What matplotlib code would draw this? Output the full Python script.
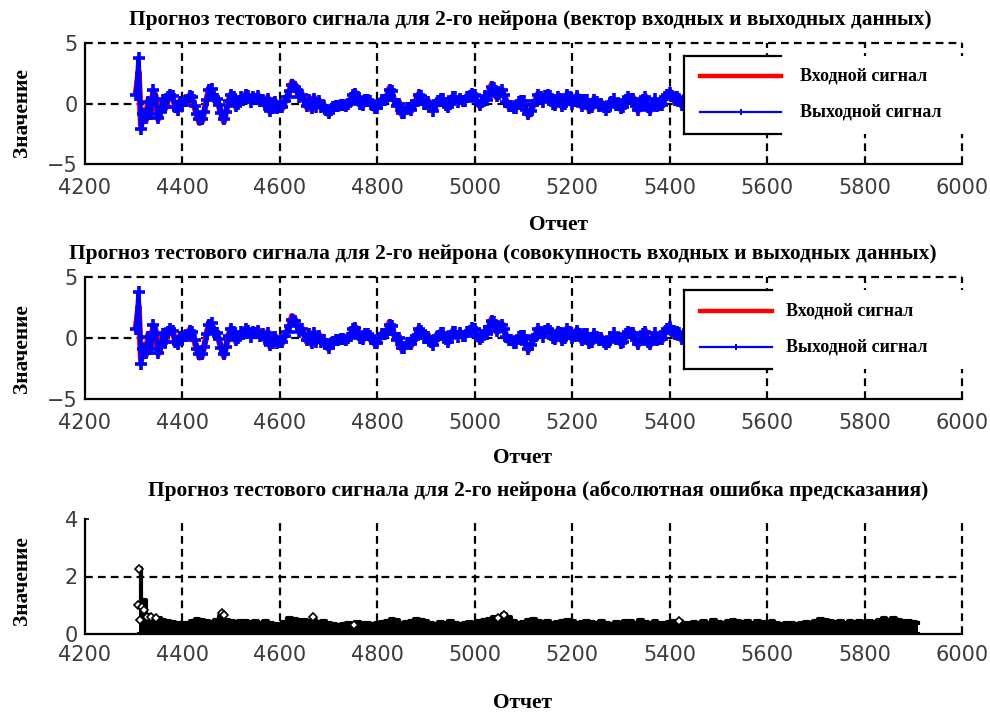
import numpy as np
import matplotlib
matplotlib.use("Agg")
import matplotlib.pyplot as plt
from matplotlib.lines import Line2D
from matplotlib.patches import Rectangle

# ---- data ----
# input / output signal, one value every 5 samples starting at 4305
sig_start, sig_step = 4305, 5
sig_in = [
    1.0, 2.6, -1.8, -0.6, -1.4, 0.3, -0.8, 1.0, 0.6, -1.3,
    -0.6, 0.2, -0.4, 0.4, 0.8, 0.5, -0.2, -0.6, 0.2, -0.1,
    0.3, 0.1, 0.7, 0.4, -0.3, -1.0, -1.6, -1.5, -0.6, 0.4,
    1.3, 1.1, 0.6, 0.3, -0.2, -0.9, -1.5, -0.6, 0.3, 0.8,
    0.4, -0.3, 0.1, 0.4, 0.2, 0.8, 0.5, 0.2, 0.6, 0.3,
    0.7, 0.1, 0.4, -0.2, 0.5, -0.7, -0.3, 0.2, -0.5, -0.2,
    -0.4, 0.1, 0.6, 1.1, 1.8, 1.6, 1.0, 0.6, 0.8, 0.2,
    -0.3, 0.4, -0.5, 0.5, -0.2, 0.3, -0.4, -0.1, -0.6, -0.9,
    -0.4, -0.2, -0.3, -0.1, -0.2, 0.0, -0.3, -0.1, 0.3, 0.8,
    0.9, 0.4, 0.1, -0.2, 0.2, 0.4, 0.1, -0.2, -0.5, -0.3,
    0.1, 0.4, 0.2, 0.6, 1.3, 0.9, 0.2, -0.1, 0.1, -0.9,
    -0.7, -0.5, -0.3, -0.6, -0.2, 0.3, 0.8, 0.5, 0.1, -0.1,
    0.2, -0.4, -0.5, -0.2, 0.1, 0.5, 0.3, -0.2, -0.4, 0.1,
    0.6, 0.4, 0.2, 0.5, 0.1, 0.3, 0.4, 0.7, 0.9, 0.6,
    0.1, -0.2, 0.2, 0.5, 0.4, 1.0, 1.6, 1.2, 0.5, 0.9,
    1.2, 0.6, 0.2, -0.3, -0.1, -0.5, -0.3, 0.0, 0.3, 0.1,
    -0.6, -1.0, -0.5, -0.2, 0.3, 0.8, 0.4, 0.2, 0.5, 0.8,
    0.5, 0.1, -0.2, 0.6, 0.3, -0.3, 0.1, 0.8, 0.4, -0.1,
    0.3, 0.7, 0.2, -0.3, 0.4, 0.2, -0.5, -0.2, 0.4, 0.0,
    -0.3, 0.1, -0.4, -0.6, -0.2, 0.2, 0.3, -0.2, 0.0, -0.5,
    -0.2, 0.4, 0.6, 0.3, 0.5, -0.3, -0.6, -0.1, 0.2, 0.6,
    -0.4, -0.6, 0.1, 0.3, -0.3, 0.0, -0.2, 0.4, 0.8, 1.0,
    0.5, 0.2, 0.6, 0.3, -0.2, 0.4, 0.1, 0.3,
]
sig_out = [
    0.7, 3.8, -2.1, -0.9, -1.2, 0.1, -0.9, 1.1, 0.4, -1.2,
    -0.7, 0.3, -0.3, 0.5, 0.7, 0.6, -0.3, -0.5, 0.1, 0.0,
    0.2, 0.2, 0.6, 0.5, -0.2, -0.9, -1.3, -1.3, -0.7, 0.3,
    1.1, 1.2, 0.5, 0.4, -0.1, -0.8, -1.3, -0.7, 0.2, 0.7,
    0.5, -0.2, 0.0, 0.5, 0.3, 0.7, 0.6, 0.1, 0.5, 0.4,
    0.6, 0.2, 0.3, -0.1, 0.4, -0.6, -0.4, 0.1, -0.4, -0.3,
    -0.3, 0.2, 0.5, 1.0, 1.5, 1.4, 1.1, 0.5, 0.7, 0.3,
    -0.2, 0.3, -0.4, 0.4, -0.3, 0.2, -0.3, -0.2, -0.5, -0.8,
    -0.5, -0.3, -0.2, -0.2, -0.1, -0.1, -0.2, 0.0, 0.2, 0.7,
    0.8, 0.5, 0.0, -0.1, 0.3, 0.3, 0.2, -0.1, -0.4, -0.4,
    0.0, 0.3, 0.3, 0.5, 1.1, 1.0, 0.3, -0.2, 0.0, -0.8,
    -0.8, -0.4, -0.4, -0.5, -0.1, 0.2, 0.7, 0.6, 0.0, 0.0,
    0.1, -0.3, -0.6, -0.1, 0.2, 0.4, 0.4, -0.1, -0.3, 0.0,
    0.5, 0.5, 0.1, 0.4, 0.2, 0.2, 0.5, 0.6, 0.8, 0.7,
    0.2, -0.1, 0.1, 0.6, 0.3, 0.9, 1.4, 1.3, 0.6, 0.8,
    1.1, 0.7, 0.1, -0.2, -0.2, -0.4, -0.4, 0.1, 0.2, 0.2,
    -0.5, -0.9, -0.6, -0.1, 0.2, 0.7, 0.5, 0.1, 0.6, 0.7,
    0.6, 0.0, -0.1, 0.5, 0.4, -0.2, 0.0, 0.7, 0.5, 0.0,
    0.2, 0.6, 0.3, -0.2, 0.3, 0.3, -0.4, -0.3, 0.3, 0.1,
    -0.2, 0.0, -0.3, -0.5, -0.3, 0.1, 0.4, -0.1, -0.1, -0.4,
    -0.3, 0.3, 0.5, 0.4, 0.4, -0.2, -0.5, -0.2, 0.3, 0.5,
    -0.3, -0.5, 0.0, 0.4, -0.2, -0.1, -0.1, 0.5, 0.7, 0.9,
    0.6, 0.3, 0.5, 0.4, -0.1, 0.3, 0.2, 0.2,
]

# absolute prediction error, one value every 10 samples starting at 4310
err_start, err_step = 4310, 10
err_vals = [
    2.3, 1.2, 0.65, 0.6, 0.55, 0.5, 0.45, 0.42, 0.4, 0.38,
    0.4, 0.45, 0.52, 0.5, 0.44, 0.42, 0.48, 0.62, 0.48, 0.44,
    0.42, 0.46, 0.44, 0.42, 0.46, 0.4, 0.44, 0.38, 0.36, 0.34,
    0.42, 0.55, 0.52, 0.48, 0.5, 0.44, 0.48, 0.42, 0.46, 0.4,
    0.34, 0.32, 0.36, 0.4, 0.34, 0.42, 0.38, 0.4, 0.34, 0.38,
    0.42, 0.46, 0.52, 0.48, 0.4, 0.42, 0.46, 0.52, 0.5, 0.44,
    0.4, 0.36, 0.42, 0.4, 0.46, 0.4, 0.34, 0.38, 0.42, 0.4,
    0.44, 0.48, 0.52, 0.58, 0.52, 0.68, 0.58, 0.44, 0.4, 0.42,
    0.48, 0.52, 0.46, 0.4, 0.44, 0.38, 0.42, 0.46, 0.48, 0.44,
    0.4, 0.42, 0.46, 0.42, 0.38, 0.44, 0.4, 0.36, 0.42, 0.4,
    0.44, 0.46, 0.4, 0.48, 0.42, 0.38, 0.44, 0.4, 0.37, 0.42,
    0.46, 0.44, 0.4, 0.38, 0.42, 0.4, 0.44, 0.4, 0.48, 0.42,
    0.38, 0.44, 0.5, 0.46, 0.42, 0.44, 0.4, 0.46, 0.42, 0.4,
    0.44, 0.4, 0.36, 0.4, 0.38, 0.34, 0.38, 0.42, 0.4, 0.44,
    0.52, 0.48, 0.46, 0.42, 0.46, 0.4, 0.44, 0.42, 0.46, 0.4,
    0.44, 0.42, 0.48, 0.54, 0.5, 0.55, 0.48, 0.46, 0.44, 0.42,
    0.4,
]
# open markers sticking out above the error band
out_x = [4308, 4310, 4313, 4316, 4321, 4327, 4336, 4346, 4481, 4486, 4668, 4752, 5048, 5060, 5420]
out_y = [1.0, 2.25, 0.5, 0.95, 0.85, 0.6, 0.6, 0.55, 0.72, 0.65, 0.58, 0.3, 0.55, 0.66, 0.45]

titles = [
    "Прогноз тестового сигнала для 2-го нейрона (вектор входных и выходных данных)",
    "Прогноз тестового сигнала для 2-го нейрона (совокупность входных и выходных данных)",
    "Прогноз тестового сигнала для 2-го нейрона (абсолютная ошибка предсказания)",
]
legend_labels = ["Входной сигнал", "Выходной сигнал"]
xticks = list(range(4200, 6001, 200))

n = min(len(sig_in), len(sig_out))
sig_x = sig_start + sig_step * np.arange(n)
sig_in = np.array(sig_in[:n])
sig_out = np.array(sig_out[:n])
err_x = err_start + err_step * np.arange(len(err_vals))
err_vals = np.array(err_vals)

W, H = 990, 715
fig = plt.figure(figsize=(W / 100, H / 100), dpi=100)
fig.patch.set_facecolor("white")

SERIF = dict(family="Liberation Serif", weight="bold", color="black")
GRID = dict(color="black", lw=1.6, ls=(0, (3.5, 2.3)))


def fx(px):
    return px / W


def fy(py):
    return 1 - py / H


def make_axes(top, bottom, left=85, right=962):
    return fig.add_axes([fx(left), fy(bottom), fx(right) - fx(left), fy(top) - fy(bottom)])


def style(ax, ylim, yticks, hgrid, xpad):
    ax.set_xlim(4200, 6000)
    ax.set_ylim(*ylim)
    ax.set_xticks(xticks)
    ax.set_yticks(yticks)
    for s in ("top", "right"):
        ax.spines[s].set_visible(False)
    for s in ("left", "bottom"):
        ax.spines[s].set_linewidth(1.6)
        ax.spines[s].set_zorder(5)
    ax.tick_params(direction="in", length=3, width=1.2, labelsize=15,
                   labelcolor="#3c3c3c")
    ax.tick_params(axis="x", pad=xpad)
    ax.tick_params(axis="y", pad=5)
    for x in xticks[1:]:
        ax.axvline(x, zorder=0.5, clip_on=False, **GRID)
    for y in hgrid:
        ax.axhline(y, zorder=0.5, clip_on=False, **GRID)


def legend_box(top, bottom, line_right, red_y, blue_y, text_x):
    fig.add_artist(Rectangle((fx(684), fy(bottom)), fx(968) - fx(684), fy(top) - fy(bottom),
                             transform=fig.transFigure, facecolor="white",
                             edgecolor="none", zorder=10))
    for xs, ys in (([684, 684], [top, bottom]), ([684, line_right], [top, top]),
                   ([684, line_right], [bottom, bottom])):
        fig.add_artist(Line2D([fx(v) for v in xs], [fy(v) for v in ys], color="black",
                              lw=1.6, zorder=11))
    fig.add_artist(Line2D([fx(700), fx(line_right)], [fy(red_y), fy(red_y)],
                          color="red", lw=3.2, zorder=11))
    fig.add_artist(Line2D([fx(700), fx(line_right)], [fy(blue_y), fy(blue_y)],
                          color="blue", lw=1.6, zorder=11))
    mid = (700 + line_right) / 2
    fig.add_artist(Line2D([fx(mid)], [fy(blue_y)], color="blue", marker="+",
                          markersize=5, mew=1.4, zorder=11))
    fig.text(fx(text_x), fy(red_y), legend_labels[0], fontsize=13, va="center",
             zorder=12, **SERIF)
    fig.text(fx(text_x), fy(blue_y), legend_labels[1], fontsize=13, va="center",
             zorder=12, **SERIF)


# ---- panels 1 and 2: input vs output signal ----
for top, bottom in ((43, 164), (277, 399)):
    ax = make_axes(top, bottom)
    style(ax, (-5, 5), [-5, 0, 5], [0, 5], xpad=10)
    ax.plot(sig_x, sig_in, color="red", lw=4.5, zorder=2)
    ax.plot(sig_x, sig_out, color="blue", lw=3.2, marker="+", markersize=9,
            mew=2.6, zorder=3)

legend_box(56, 134, 781, 76, 112, 800)
legend_box(290, 369, 772, 311, 347, 786)

# ---- panel 3: absolute error ----
ax3 = make_axes(519, 634)
style(ax3, (0, 4), [0, 2, 4], [2], xpad=8)
ax3.fill_between(err_x, 0, err_vals, step="mid", color="black", lw=0, zorder=2)
ax3.plot(err_x, err_vals, color="black", lw=3.0, drawstyle="steps-mid", zorder=3)
ax3.plot(err_x, np.zeros(len(err_x)), color="black", lw=3.0, zorder=3)
ax3.plot(out_x, out_y, ls="none", marker="D", markersize=4.5, mfc="white",
         mec="black", mew=1.2, zorder=4)

# ---- texts ----
fig.text(fx(530), fy(20), titles[0], fontsize=15.4, ha="center", va="center", **SERIF)
fig.text(fx(503), fy(254), titles[1], fontsize=15.4, ha="center", va="center", **SERIF)
fig.text(fx(538), fy(491), titles[2], fontsize=15.4, ha="center", va="center", **SERIF)

for yc in (113, 349, 581):
    fig.text(fx(22), fy(yc), "Значение", fontsize=15.4, rotation=90, ha="center",
             va="center", **SERIF)
for xc, yc in ((558, 225), (522, 458), (522, 703)):
    fig.text(fx(xc), fy(yc), "Отчет", fontsize=15.4, ha="center", va="center", **SERIF)

fig.savefig("out.png", dpi=100, facecolor="white")
